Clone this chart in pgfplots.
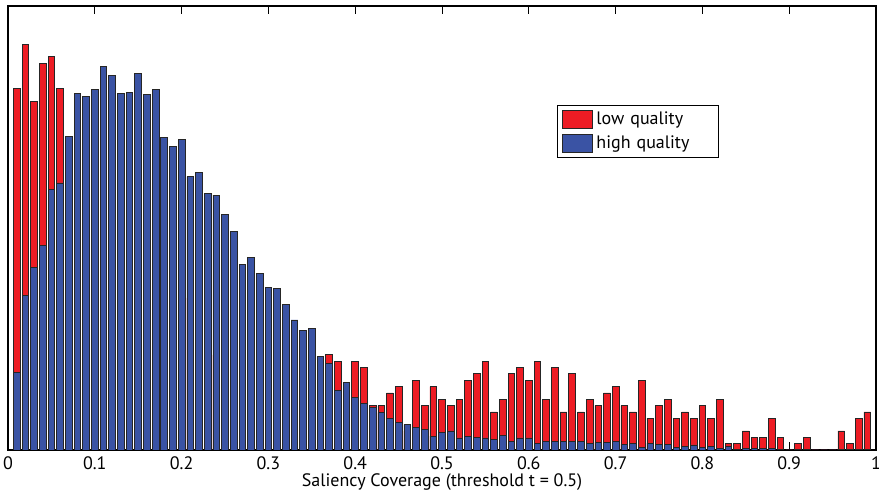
\documentclass[border=0pt]{standalone}
\usepackage{pgfplots}
\usepackage{pgfplotstable}
\usepackage{fontspec}
\setmainfont{PT Sans}
\pgfplotsset{compat=1.18}

\definecolor{lowq}{RGB}{237,28,36}
\definecolor{highq}{RGB}{58,83,164}

% bin centre, low quality, high quality
\pgfplotstableread{
x low high
0.01 57 12.2
0.02 64 24.4
0.03 55 28.8
0.04 61 32.2
0.05 62 41.1
0.06 57 42.1
0.07 44 49.5
0.08 45 56.2
0.09 48 55.8
0.10 51 56.9
0.11 50 60.4
0.12 42 59.0
0.13 34 56.2
0.14 32 56.4
0.15 30 59.4
0.16 29 56.1
0.17 28 56.9
0.18 23 49.3
0.19 21 47.9
0.20 23 48.9
0.21 24 43.1
0.22 26 43.8
0.23 16 40.4
0.24 15 40.2
0.25 17 37.1
0.26 17 34.4
0.27 16 29.2
0.28 18 30.3
0.29 15 27.9
0.30 16 25.6
0.31 14 25.4
0.32 13 22.9
0.33 14 20.5
0.34 12 18.9
0.35 13 19.2
0.36 12 14.7
0.37 15 13.7
0.38 14 9.4
0.39 10 10.6
0.40 14 8.3
0.41 13 7.4
0.42 7 6.7
0.43 7 5.9
0.44 9 5.0
0.45 10 4.3
0.46 3 4.0
0.47 11 3.6
0.48 7 3.3
0.49 10 2.2
0.50 8 2.8
0.51 7 3.0
0.52 8 1.9
0.53 11 2.1
0.54 12 2.0
0.55 14 1.9
0.56 6 1.6
0.57 8 2.3
0.58 12 1.3
0.59 13 1.9
0.60 11 1.9
0.61 14 1.1
0.62 8 1.3
0.63 13 1.4
0.64 6 1.4
0.65 12 1.4
0.66 6 1.3
0.67 8 1.1
0.68 7 1.2
0.69 9 1.2
0.70 10 1.4
0.71 7 0.9
0.72 6 1.1
0.73 11 0.4
0.74 5 1.1
0.75 7 0.9
0.76 8 0.9
0.77 5 0.4
0.78 6 0.5
0.79 5 0.8
0.80 7 0.4
0.81 5 0.5
0.82 8 0.3
0.83 1 0.5
0.84 1 0.15
0.85 3 0.3
0.86 2 0.2
0.87 2 0.3
0.88 5 0.3
0.89 2 0.1
0.90 0 0
0.91 1 0.1
0.92 2 0.1
0.93 0 0
0.94 0 0
0.95 0 0
0.96 3 0.1
0.97 1 0.1
0.98 5 0.1
0.99 6 0.1
}\hist

\begin{document}
\begin{tikzpicture}
\begin{axis}[
    scale only axis,
    width=434pt, height=222pt,
    xmin=0, xmax=1, ymin=0, ymax=70,
    xtick={0,0.1,...,1}, ytick=\empty,
    xticklabels={0,0.1,0.2,0.3,0.4,0.5,0.6,0.7,0.8,0.9,1},
    tick align=inside, major tick length=4pt,
    tick style={black, line width=0.5pt},
    axis line style={black, line width=0.6pt},
    ticklabel style={font=\fontsize{9}{10}\selectfont},
    /pgf/number format/assume math mode=true,
    xlabel={Saliency Coverage (threshold t = 0.5)},
    xlabel style={font=\fontsize{9}{10}\selectfont, yshift=5pt},
    legend style={at={(0.6325,0.777)}, anchor=north west, draw=black,
        line width=0.6pt, font=\fontsize{9}{10}\selectfont,
        inner xsep=2pt, inner ysep=1pt, row sep=0pt,
        cells={anchor=west, text width=57pt, align=left}},
    legend image code/.code={\draw[#1, line width=0.4pt] (0pt,-4.5pt) rectangle (15pt,4.5pt);},
]
\addplot[ybar, bar width=0.0077, bar shift=0pt, fill=lowq, draw=black!85, line width=0.4pt]
    table[x=x, y=low] {\hist};
\addplot[ybar, bar width=0.0077, bar shift=0pt, fill=highq, draw=black!85, line width=0.4pt]
    table[x=x, y=high] {\hist};
\legend{low quality, high quality}
\end{axis}
\pgfresetboundingbox
\useasboundingbox ([shift={(-4pt,-21pt)}]current axis.south west)
    rectangle ([shift={(1.5pt,3pt)}]current axis.north east);
\end{tikzpicture}
\end{document}
